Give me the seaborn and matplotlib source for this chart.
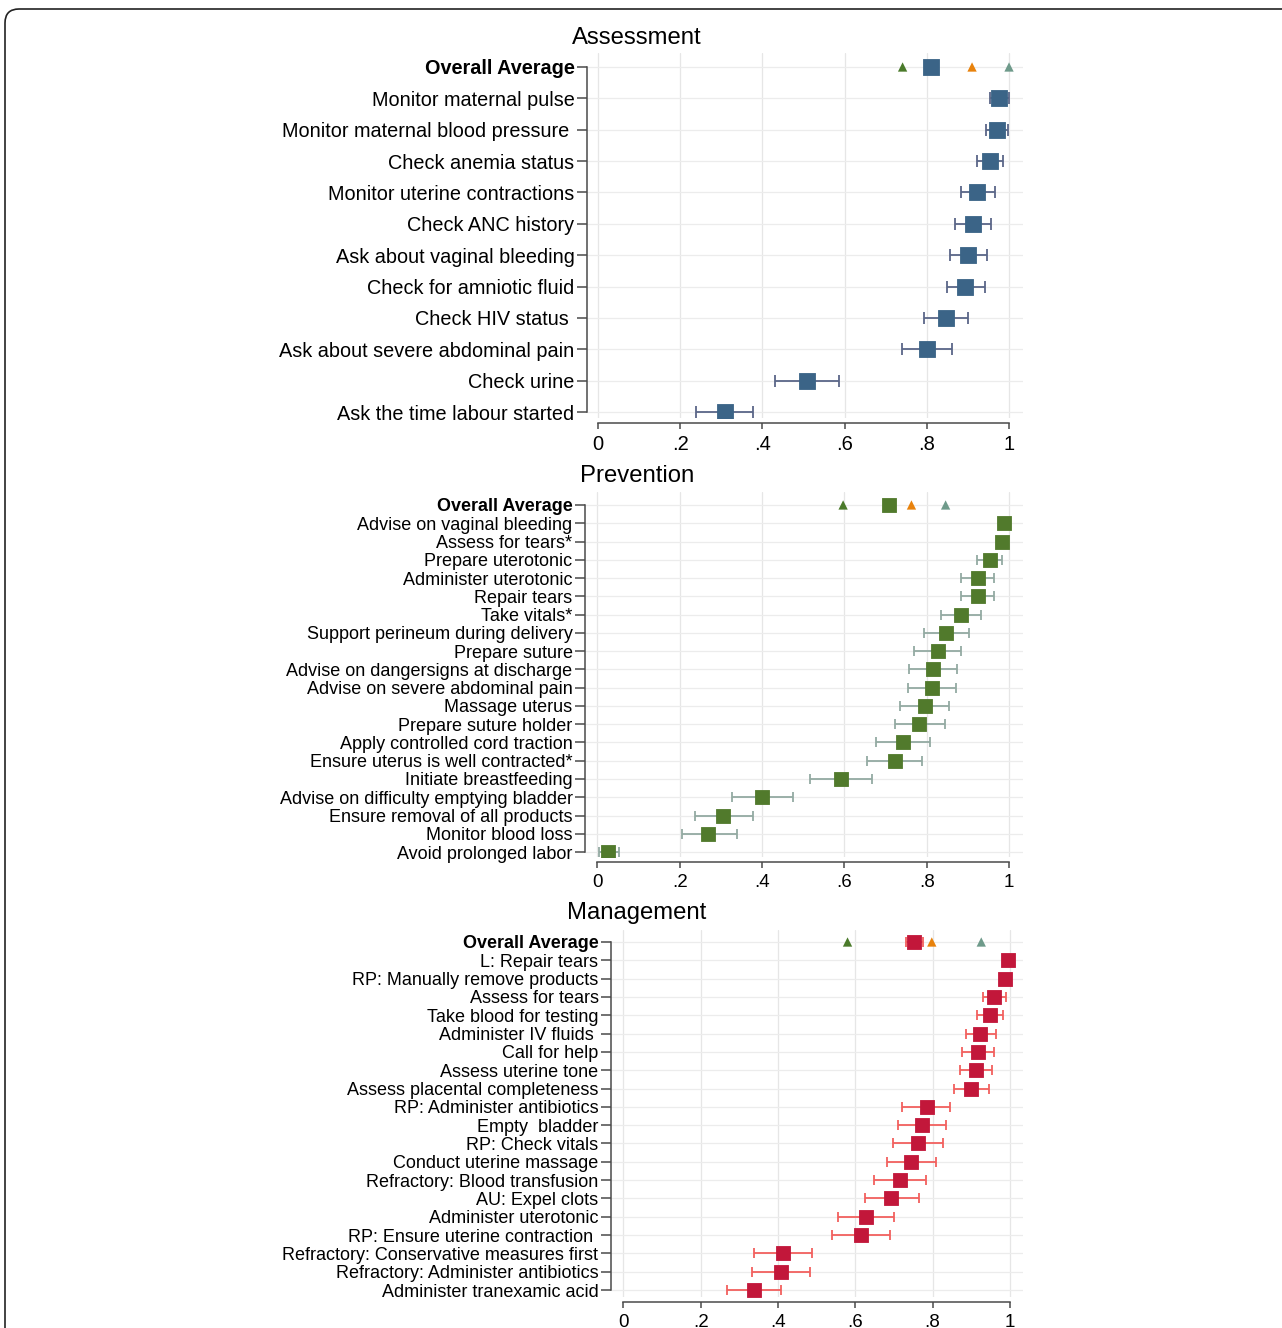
import numpy as np
import pandas as pd
import matplotlib
matplotlib.use("Agg")
import matplotlib.pyplot as plt
import seaborn as sns
from matplotlib.patches import FancyBboxPatch

# ---------------- data ----------------
assess_labels = ["Overall Average", "Monitor maternal pulse", "Monitor maternal blood pressure ",
                 "Check anemia status", "Monitor uterine contractions", "Check ANC history",
                 "Ask about vaginal bleeding", "Check for amniotic fluid", "Check HIV status ",
                 "Ask about severe abdominal pain", "Check urine", "Ask the time labour started"]
assess_mean = [0.809, 0.976, 0.970, 0.954, 0.923, 0.912, 0.901, 0.894, 0.847, 0.800, 0.509, 0.308]
assess_lo = [0.800, 0.954, 0.944, 0.921, 0.882, 0.869, 0.856, 0.848, 0.792, 0.740, 0.431, 0.238]
assess_hi = [0.818, 1.000, 0.998, 0.986, 0.965, 0.957, 0.947, 0.941, 0.901, 0.861, 0.587, 0.378]
assess_tri = [0.741, 0.910, 1.000]

prev_labels = ["Overall Average", "Advise on vaginal bleeding", "Assess for tears*", "Prepare uterotonic",
               "Administer uterotonic", "Repair tears", "Take vitals*", "Support perineum during delivery",
               "Prepare suture", "Advise on dangersigns at discharge", "Advise on severe abdominal pain",
               "Massage uterus", "Prepare suture holder", "Apply controlled cord traction",
               "Ensure uterus is well contracted*", "Initiate breastfeeding",
               "Advise on difficulty emptying bladder", "Ensure removal of all products",
               "Monitor blood loss", "Avoid prolonged labor"]
prev_mean = [0.709, 0.987, 0.982, 0.953, 0.924, 0.924, 0.884, 0.848, 0.827, 0.815, 0.813,
             0.795, 0.782, 0.743, 0.722, 0.591, 0.401, 0.306, 0.270, 0.027]
prev_lo = [0.698, 0.976, 0.970, 0.922, 0.884, 0.884, 0.835, 0.793, 0.770, 0.756, 0.755,
           0.735, 0.723, 0.677, 0.655, 0.517, 0.328, 0.237, 0.205, 0.003]
prev_hi = [0.720, 0.998, 0.994, 0.984, 0.963, 0.963, 0.932, 0.903, 0.884, 0.874, 0.872,
           0.855, 0.845, 0.808, 0.789, 0.668, 0.475, 0.377, 0.340, 0.053]
prev_tri = [0.597, 0.763, 0.846]

mgmt_labels = ["Overall Average", "L: Repair tears", "RP: Manually remove products", "Assess for tears",
               "Take blood for testing", "Administer IV fluids ", "Call for help", "Assess uterine tone",
               "Assess placental completeness", "RP: Administer antibiotics", "Empty  bladder",
               "RP: Check vitals", "Conduct uterine massage", "Refractory: Blood transfusion",
               "AU: Expel clots", "Administer uterotonic", "RP: Ensure uterine contraction ",
               "Refractory: Conservative measures first", "Refractory: Administer antibiotics",
               "Administer tranexamic acid"]
mgmt_mean = [0.751, 0.995, 0.988, 0.960, 0.948, 0.924, 0.918, 0.913, 0.900, 0.786, 0.773,
             0.763, 0.745, 0.716, 0.693, 0.628, 0.615, 0.413, 0.407, 0.337]
mgmt_lo = [0.731, 0.990, 0.980, 0.931, 0.916, 0.886, 0.877, 0.870, 0.856, 0.722, 0.710,
           0.698, 0.681, 0.648, 0.624, 0.556, 0.541, 0.339, 0.333, 0.268]
mgmt_hi = [0.774, 1.000, 0.995, 0.990, 0.981, 0.964, 0.960, 0.955, 0.945, 0.846, 0.836,
           0.826, 0.810, 0.782, 0.764, 0.700, 0.689, 0.487, 0.482, 0.409]
mgmt_tri = [0.580, 0.798, 0.926]

tri_colors = ["#4a7a2a", "#e8820c", "#6e9a8a"]
xtick_vals = [0, 0.2, 0.4, 0.6, 0.8, 1.0]
xtick_labels = ["0", ".2", ".4", ".6", ".8", "1"]

# ---------------- style ----------------
sns.set_theme(style="white")
plt.rcParams["font.family"] = ["Liberation Sans", "DejaVu Sans"]

W, H = 1282, 1328
fig = plt.figure(figsize=(W / 100, H / 100), dpi=100)
fig.patch.set_facecolor("white")

def px_axes(left, right, top, bottom):
    return fig.add_axes([left / W, (H - bottom) / H, (right - left) / W, (bottom - top) / H])

panels = [
    dict(title="Assessment", ty=38, box=(587, 1023, 53, 418), xlim=(-0.027, 1.034),
         ypad=(0.446, 0.19), labels=assess_labels, mean=assess_mean, lo=assess_lo, hi=assess_hi,
         tri=assess_tri, color="#3b6487", ecolor="#5a6688", size=140, lsize=14.3, cap=4.0,
         xsize=14.5),
    dict(title="Prevention", ty=476, box=(585, 1023, 492, 857), xlim=(-0.030, 1.034),
         ypad=(0.71, 0.27), labels=prev_labels, mean=prev_mean, lo=prev_lo, hi=prev_hi,
         tri=prev_tri, color="#517a2c", ecolor="#93aaa2", size=105, lsize=13.0, cap=3.5,
         xsize=13.5),
    dict(title="Management", ty=913, box=(611, 1023, 930, 1297), xlim=(-0.032, 1.034),
         ypad=(0.655, 0.38), labels=mgmt_labels, mean=mgmt_mean, lo=mgmt_lo, hi=mgmt_hi,
         tri=mgmt_tri, color="#c2173a", ecolor="#f2605e", size=110, lsize=13.0, cap=3.5,
         xsize=13.5),
]

for p in panels:
    ax = px_axes(*p["box"])
    n = len(p["labels"])
    df = pd.DataFrame({"item": p["labels"], "pos": np.arange(n), "mean": p["mean"],
                       "lo": p["lo"], "hi": p["hi"]})
    # grid
    for v in xtick_vals:
        ax.axvline(v, color="#e6e6e6", lw=0.9, zorder=0)
    for yv in df["pos"]:
        ax.axhline(yv, color="#ececec", lw=0.9, zorder=0)
    # CIs
    ax.errorbar(df["mean"], df["pos"],
                xerr=[df["mean"] - df["lo"], df["hi"] - df["mean"]],
                fmt="none", ecolor=p["ecolor"], elinewidth=1.3, capsize=p["cap"],
                capthick=1.3, zorder=2)
    # point estimates
    sns.scatterplot(data=df, x="mean", y="pos", marker="s", s=p["size"], color=p["color"],
                    edgecolor=p["color"], linewidth=0.6, ax=ax, zorder=3, legend=False)
    # triangles on overall row
    tdf = pd.DataFrame({"val": p["tri"], "pos": [0] * len(p["tri"]), "grp": ["a", "b", "c"]})
    sns.scatterplot(data=tdf, x="val", y="pos", hue="grp", palette=tri_colors, marker="^",
                    s=45, linewidth=0, ax=ax, zorder=3, legend=False)

    ax.set_xlim(*p["xlim"])
    ax.set_ylim(n - 1 + p["ypad"][1], -p["ypad"][0])
    ax.set_xlabel("")
    ax.set_ylabel("")
    for s in ["top", "right"]:
        ax.spines[s].set_visible(False)
    for s in ["left", "bottom"]:
        ax.spines[s].set_color("#4a4a4a")
        ax.spines[s].set_linewidth(1.1)
    ax.spines["left"].set_bounds(0, n - 1)
    ax.spines["bottom"].set_bounds(0, 1)
    ax.spines["bottom"].set_position(("outward", 3.5))
    ax.tick_params(axis="y", left=True, length=7, width=1.1, color="#4a4a4a", pad=2,
                   labelsize=p["lsize"], labelcolor="black")
    ax.tick_params(axis="x", bottom=True, length=4.5, width=1.1, color="#4a4a4a", pad=4,
                   labelsize=p["xsize"], labelcolor="black")
    ax.set_yticks(df["pos"])
    ax.set_yticklabels(p["labels"])
    ax.get_yticklabels()[0].set_fontweight("bold")
    ax.set_xticks(xtick_vals)
    ax.set_xticklabels(xtick_labels)
    ax.set_facecolor("none")
    fig.text(637 / W, 1 - p["ty"] / H, p["title"], ha="center", va="center", fontsize=17.2,
             color="black")

# rounded frame around the figure
frame = FancyBboxPatch((5, -60), 1400, H - 9 + 60, boxstyle="round,pad=0,rounding_size=14",
                       transform=None, facecolor="none", edgecolor="#222222", linewidth=1.2)
fig.add_artist(frame)

fig.savefig("out.png", dpi=100)
